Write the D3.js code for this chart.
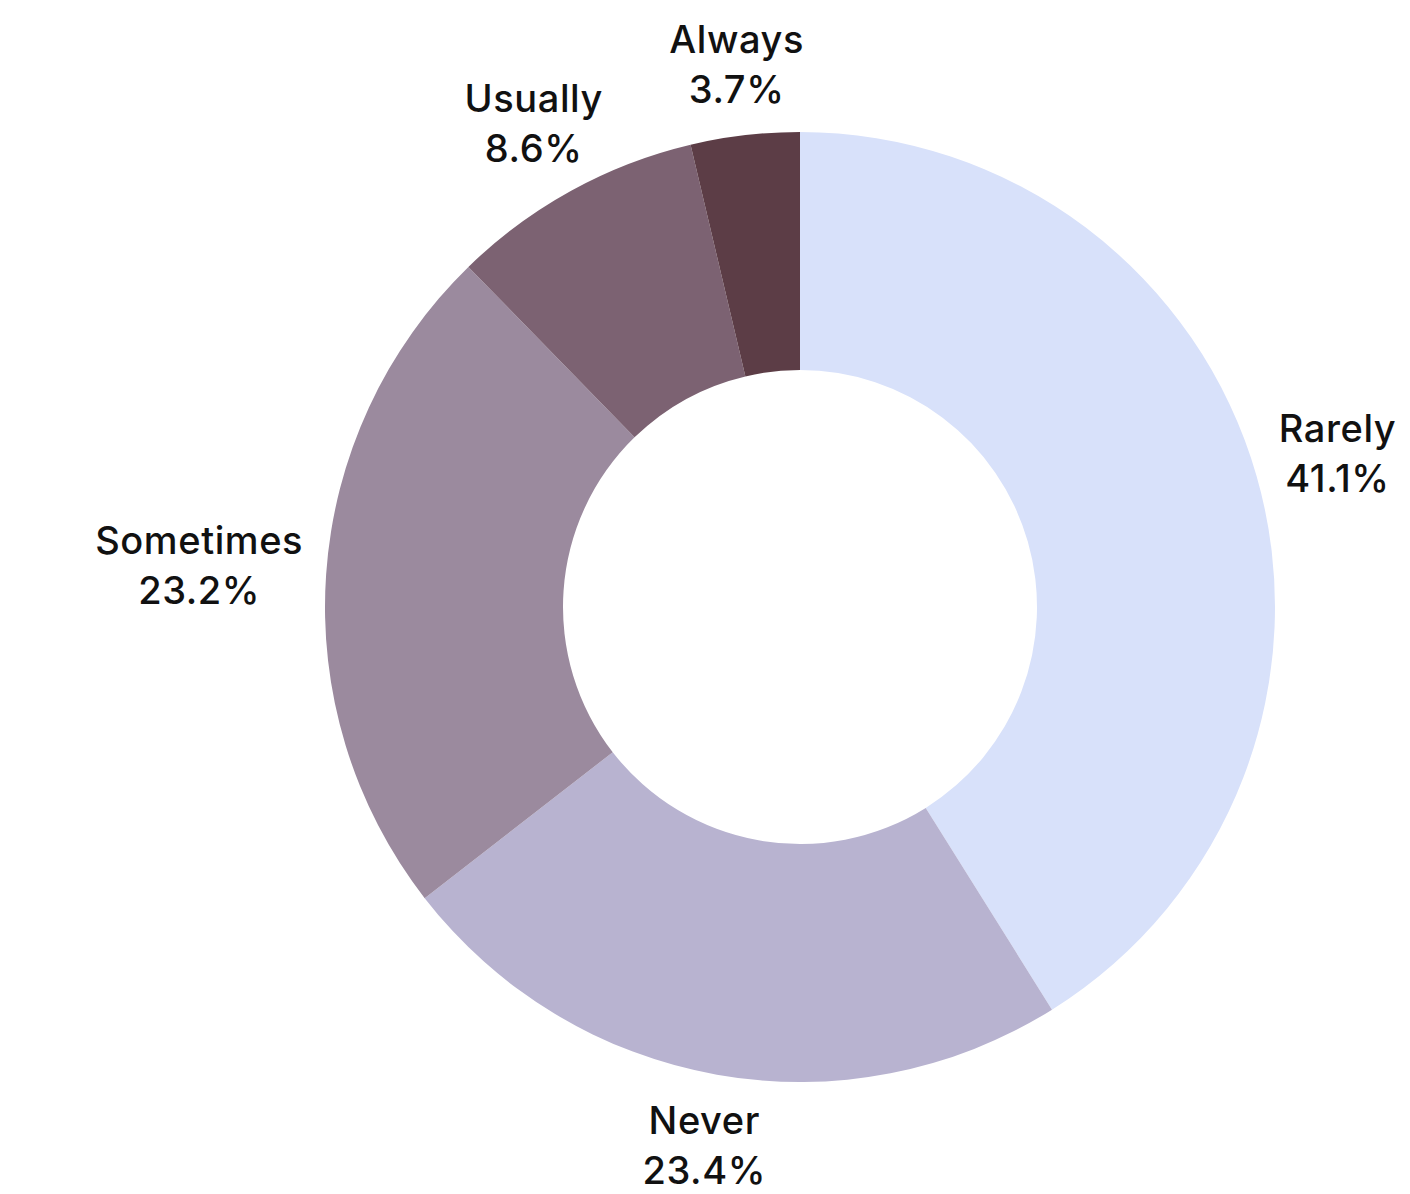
<!DOCTYPE html>
<html>
<head>
<meta charset="utf-8">
<script src="https://cdn.jsdelivr.net/npm/d3@7"></script>
<style>
  body { margin: 0; background: #fff; }
  text { font-family: Inter, "Open Sans", sans-serif; font-weight: 500; fill: #111; letter-spacing: 0.6px; }
</style>
</head>
<body>
<div id="chart"></div>
<script>
var categories = ["Rarely", "Never", "Sometimes", "Usually", "Always"]
var shares = [41.1, 23.4, 23.2, 8.6, 3.7]
var colors = ["#d8e1fa", "#b8b3d0", "#9b8a9e", "#7c6272", "#5c3d46"]

var width = 1410
var height = 1194
var cx = 800, cy = 607
var outer = 475, inner = 237
var labelR = 498

var data = categories.map(function(c, i) {
    return { name: c, value: shares[i], color: colors[i] }
})

var svg = d3.select("#chart")
            .append("svg")
            .attr("width", width)
            .attr("height", height)

var g = svg.append("g").attr("transform", "translate(" + cx + "," + cy + ")")

var pie = d3.pie().sort(null).value(function(d) { return d.value })
var arc = d3.arc().innerRadius(inner).outerRadius(outer)
var arcs = pie(data)

g.selectAll("path")
    .data(arcs)
    .enter()
    .append("path")
    .attr("d", arc)
    .attr("fill", function(d) { return d.data.color })

// labels pushed out along the mid angle so the box edge sits at labelR
var labels = g.selectAll("g.lbl")
    .data(arcs)
    .enter()
    .append("g")
    .attr("class", "lbl")

labels.each(function(d) {
    var el = d3.select(this)
    var t = el.append("text").attr("text-anchor", "middle").style("font-size", "38px")
    t.append("tspan").attr("x", 0).attr("y", 0).text(d.data.name)
    t.append("tspan").attr("x", 0).attr("y", 50).text(d.data.value.toFixed(1) + "%")
    var bb = t.node().getBBox()
    var a = (d.startAngle + d.endAngle) / 2
    var vx = Math.sin(a), vy = -Math.cos(a)
    var hw = bb.width / 2, hh = bb.height / 2
    var k = Math.min(Math.abs(vx) > 1e-6 ? hw / Math.abs(vx) : Infinity,
                     Math.abs(vy) > 1e-6 ? hh / Math.abs(vy) : Infinity)
    var px = vx * (labelR + k), py = vy * (labelR + k)
    var ox = bb.x + hw, oy = bb.y + hh
    el.attr("transform", "translate(" + (px - ox) + "," + (py - oy) + ")")
})
</script>
</body>
</html>
